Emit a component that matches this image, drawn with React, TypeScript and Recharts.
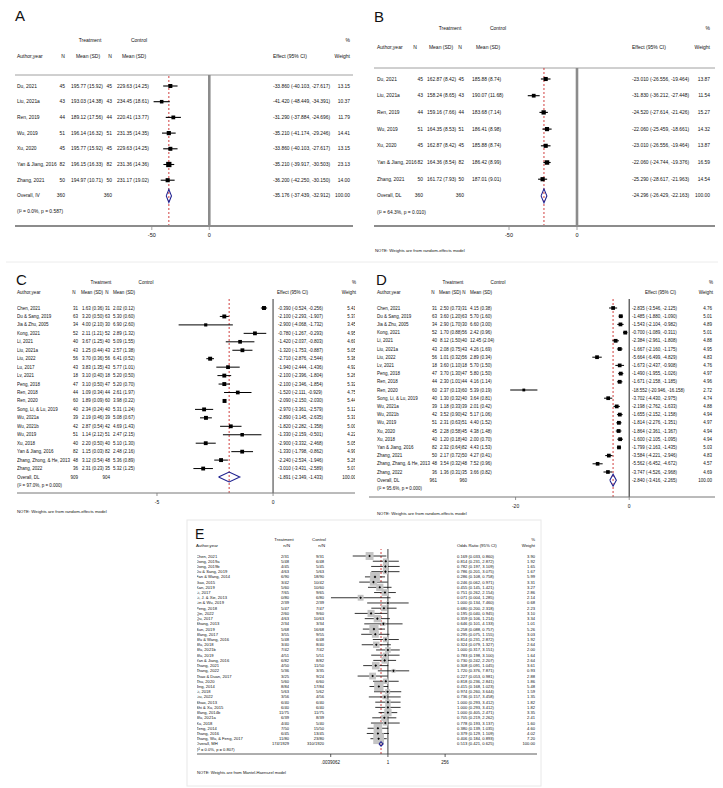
import React from 'react';
import { ScatterChart, Scatter, XAxis, YAxis, ErrorBar, ReferenceLine } from 'recharts';

const FONT = '"Liberation Sans", Arial, Helvetica, sans-serif';

// ---- A: mean differences, fixed effect ----
const aStudies = ['Du, 2021', 'Liu, 2021a', 'Ren, 2019', 'Wu, 2019', 'Xu, 2020', 'Yan & Jiang, 2016', 'Zhang, 2021'];
const aTreatment = [[45, 195.77, 15.92], [43, 193.03, 14.38], [44, 189.12, 17.56], [51, 196.14, 16.32], [45, 195.77, 15.92], [82, 196.15, 16.33], [50, 194.97, 10.71]];
const aControl = [[45, 229.63, 14.25], [43, 234.45, 18.61], [44, 220.41, 13.77], [51, 231.35, 14.35], [45, 229.63, 14.25], [82, 231.36, 14.36], [50, 231.17, 19.02]];
const aEffect = [[-33.86, -40.103, -27.617, 13.15], [-41.42, -48.449, -34.391, 10.37], [-31.29, -37.884, -24.696, 11.79], [-35.21, -41.174, -29.246, 14.41], [-33.86, -40.103, -27.617, 13.15], [-35.21, -39.917, -30.503, 23.13], [-36.2, -42.25, -30.15, 14.0]];
const aOverall = [-35.176, -37.439, -32.912];
const aTotals = ['360', '360'];
const aHet = '(I² = 0.0%, p = 0.587)';

// ---- B ----
const bStudies = ['Du, 2021', 'Liu, 2021a', 'Ren, 2019', 'Wu, 2019', 'Xu, 2020', 'Yan & Jiang, 2016', 'Zhang, 2021'];
const bTreatment = [[45, 162.87, 8.42], [43, 158.24, 8.65], [44, 159.16, 7.66], [51, 164.35, 8.53], [45, 162.87, 8.42], [82, 164.36, 8.54], [50, 161.72, 7.93]];
const bControl = [[45, 185.88, 8.74], [43, 190.07, 11.68], [44, 183.68, 7.14], [51, 186.41, 8.98], [45, 185.88, 8.74], [82, 186.42, 8.99], [50, 187.01, 9.01]];
const bEffect = [[-23.01, -26.556, -19.464, 13.87], [-31.83, -36.212, -27.448, 11.54], [-24.52, -27.614, -21.426, 15.27], [-22.06, -25.459, -18.661, 14.32], [-23.01, -26.556, -19.464, 13.87], [-22.06, -24.744, -19.376, 16.59], [-25.29, -28.617, -21.963, 14.54]];
const bOverall = [-24.296, -26.429, -22.163];
const bTotals = ['360', '360'];
const bHet = '(I² = 64.3%, p = 0.010)';

// ---- C ----
const cStudies = ['Chen, 2021', 'Du & Sang, 2019', 'Jia & Zhu, 2005', 'Kong, 2021', 'Li, 2021', 'Liu, 2021a', 'Liu, 2022', 'Lu, 2017', 'Lv, 2021', 'Peng, 2018', 'Ren, 2018', 'Ren, 2020', 'Song, Li, & Lu, 2019', 'Wu, 2021a', 'Wu, 2021b', 'Wu, 2019', 'Xu, 2018', 'Yan & Jiang, 2016', 'Zhang, Zhong, & He, 2013', 'Zhang, 2022'];
const cTreatment = [[31, 1.63, 0.36], [63, 3.2, 0.5], [34, 4.0, 2.1], [52, 2.11, 1.21], [40, 3.67, 1.25], [43, 1.25, 0.44], [56, 3.7, 0.36], [43, 3.83, 1.35], [18, 3.1, 0.4], [47, 3.1, 0.5], [44, 1.09, 0.34], [60, 1.89, 0.09], [40, 2.34, 0.24], [39, 2.19, 0.46], [42, 2.87, 0.54], [51, 1.14, 2.12], [40, 2.2, 0.5], [82, 1.15, 0.03], [48, 3.12, 0.54], [36, 2.31, 0.23]];
const cControl = [[31, 2.02, 0.12], [63, 5.3, 0.6], [30, 6.9, 2.6], [52, 2.89, 1.32], [40, 5.09, 1.55], [43, 2.57, 1.38], [56, 6.41, 0.52], [43, 5.77, 1.01], [18, 5.2, 0.5], [47, 5.2, 0.7], [44, 2.61, 1.97], [60, 3.98, 0.22], [40, 5.31, 1.24], [39, 5.08, 0.67], [42, 4.69, 1.43], [51, 2.47, 2.15], [40, 5.1, 1.3], [82, 2.48, 2.16], [48, 5.36, 0.89], [35, 5.32, 1.25]];
const cEffect = [[-0.39, -0.524, -0.256, 5.41], [-2.1, -2.293, -1.907, 5.37], [-2.9, -4.068, -1.732, 3.45], [-0.78, -1.267, -0.293, 4.95], [-1.42, -2.037, -0.803, 4.69], [-1.32, -1.753, -0.887, 5.05], [-2.71, -2.876, -2.544, 5.38], [-1.94, -2.444, -1.436, 4.92], [-2.1, -2.396, -1.804, 5.26], [-2.1, -2.346, -1.854, 5.32], [-1.52, -2.111, -0.929, 4.75], [-2.09, -2.15, -2.03, 5.44], [-2.97, -3.361, -2.579, 5.12], [-2.89, -3.145, -2.635, 5.31], [-1.82, -2.282, -1.358, 5.0], [-1.33, -2.159, -0.501, 4.22], [-2.9, -3.332, -2.468, 5.05], [-1.33, -1.798, -0.862, 4.99], [-2.24, -2.534, -1.946, 5.26], [-3.01, -3.431, -2.589, 5.07]];
const cOverall = [-1.891, -2.349, -1.433];
const cTotals = ['909', '904'];
const cHet = '(I² = 97.0%, p = 0.000)';

// ---- D ----
const dStudies = ['Chen, 2021', 'Du & Sang, 2019', 'Jia & Zhu, 2005', 'Kong, 2021', 'Li, 2021', 'Liu, 2021a', 'Liu, 2022', 'Lv, 2021', 'Peng, 2018', 'Ren, 2018', 'Ren, 2020', 'Song, Li, & Lu, 2019', 'Wu, 2021a', 'Wu, 2021b', 'Wu, 2019', 'Xu, 2020', 'Xu, 2018', 'Yan & Jiang, 2016', 'Zhang, 2021', 'Zhang, Zhang, & He, 2013', 'Zhang, 2022'];
const dTreatment = [[31, 2.5, 0.73], [63, 3.6, 1.2], [34, 2.9, 1.7], [52, 1.7, 0.88], [40, 8.12, 1.5], [43, 2.08, 0.75], [56, 1.01, 0.32], [18, 3.6, 1.1], [47, 3.7, 1.3], [44, 2.3, 1.01], [60, 2.37, 0.13], [40, 1.3, 0.32], [39, 1.18, 0.33], [42, 3.52, 0.9], [51, 2.31, 0.63], [45, 2.28, 0.58], [40, 1.2, 0.18], [82, 2.32, 0.64], [50, 2.17, 0.72], [48, 3.54, 0.32], [36, 1.36, 0.31]];
const dControl = [[31, 4.15, 0.38], [63, 5.7, 1.6], [30, 6.6, 3.0], [56, 2.42, 0.96], [40, 12.45, 2.04], [43, 4.26, 1.69], [56, 2.89, 0.34], [18, 5.7, 1.5], [47, 5.8, 1.5], [44, 4.16, 1.14], [60, 5.39, 0.19], [40, 3.64, 0.81], [39, 2.01, 0.42], [42, 5.17, 1.06], [51, 4.4, 1.52], [45, 4.38, 1.48], [40, 2.0, 0.7], [82, 4.43, 1.53], [50, 4.27, 0.41], [48, 7.52, 0.96], [35, 3.66, 0.82]];
const dEffect = [[-2.835, -3.546, -2.125, 4.76], [-1.485, -1.88, -1.09, 5.01], [-1.543, -2.104, -0.982, 4.89], [-0.7, -1.089, -0.311, 5.01], [-2.384, -2.961, -1.808, 4.88], [-1.667, -2.16, -1.175, 4.95], [-5.664, -6.499, -4.829, 4.83], [-1.673, -2.437, -0.908, 4.76], [-1.49, -1.955, -1.026, 4.97], [-1.671, -2.158, -1.185, 4.96], [-18.552, -20.946, -16.158, 2.72], [-3.702, -4.43, -2.975, 4.74], [-2.198, -2.762, -1.633, 4.88], [-1.655, -2.152, -1.158, 4.94], [-1.814, -2.276, -1.351, 4.97], [-1.864, -2.361, -1.367, 4.94], [-1.6, -2.105, -1.095, 4.94], [-1.799, -2.163, -1.435, 5.03], [-3.584, -4.221, -2.946, 4.83], [-5.562, -6.452, -4.672, 4.57], [-3.747, -4.526, -2.968, 4.69]];
const dOverall = [-2.84, -3.416, -2.265];
const dTotals = ['961', '960'];
const dHet = '(I² = 95.6%, p = 0.000)';

// ---- E: odds ratios, Mantel-Haenszel ----
const eStudies = ['Chen, 2021', 'Dong, 2019a', 'Dong, 2019b', 'Du & Sang, 2019', 'Fan & Wang, 2014', 'Gao, 2015', 'Kan, 2019', 'Li, 2017', 'Li, J. & Xie, 2013', 'Lin & Wu, 2019', 'Peng, 2018', 'Qin, 2022', 'Qu, 2017', 'Shang, 2013', 'Sun, 2019', 'Wang, 2017', 'Wu & Wang, 2016', 'Wu, 2018', 'Wu, 2021b', 'Wu, 2019', 'Yan & Jiang, 2016', 'Zhang, 2021', 'Zhang, 2022', 'Zhao & Duan, 2017', 'Zhu, 2020', 'Jing, 2014', 'Li, 2018', 'Liu, 2022', 'Shao, 2013', 'Shi & Xu, 2015', 'Wang, 2014b', 'Wu, 2021a', 'Xu, 2018', 'Zeng, 2014', 'Zhang, 2016', 'Zhang, Wu, & Feng, 2017'];
const eTreatment = [[2, 31], [5, 48], [4, 45], [4, 63], [6, 90], [3, 42], [5, 60], [7, 65], [0, 80], [2, 39], [5, 47], [2, 60], [4, 63], [2, 34], [5, 68], [3, 55], [5, 48], [3, 40], [7, 42], [4, 51], [6, 82], [4, 50], [5, 36], [3, 25], [5, 60], [8, 84], [5, 63], [3, 56], [6, 40], [6, 40], [11, 75], [6, 39], [4, 40], [7, 50], [6, 45], [11, 80]];
const eControl = [[9, 31], [6, 48], [5, 45], [5, 63], [18, 90], [10, 42], [10, 60], [9, 65], [6, 80], [2, 39], [7, 47], [9, 60], [10, 63], [3, 34], [16, 68], [9, 55], [6, 48], [8, 40], [7, 42], [5, 51], [8, 82], [11, 50], [3, 35], [9, 24], [6, 60], [17, 84], [5, 62], [4, 56], [6, 40], [6, 40], [11, 75], [8, 39], [5, 40], [15, 50], [13, 45], [23, 80]];
const eEffect = [[0.169, 0.033, 0.86, 3.9], [0.814, 0.231, 2.872, 1.92], [0.782, 0.197, 3.109, 1.65], [0.786, 0.201, 3.075, 1.67], [0.286, 0.108, 0.758, 5.99], [0.246, 0.062, 0.971, 3.31], [0.455, 0.145, 1.421, 3.27], [0.751, 0.262, 2.154, 2.86], [0.071, 0.004, 1.285, 2.14], [1.0, 0.134, 7.46, 0.68], [0.68, 0.2, 2.318, 2.23], [0.195, 0.04, 0.945, 3.1], [0.359, 0.106, 1.214, 3.34], [0.646, 0.101, 4.133, 1.01], [0.258, 0.088, 0.757, 5.26], [0.295, 0.075, 1.155, 3.03], [0.814, 0.231, 2.872, 1.92], [0.324, 0.079, 1.327, 2.64], [1.0, 0.317, 3.151, 2.0], [0.783, 0.198, 3.1, 1.64], [0.73, 0.242, 2.207, 2.64], [0.308, 0.091, 1.045, 3.61], [1.72, 0.376, 7.871, 0.93], [0.227, 0.053, 0.981, 2.88], [0.818, 0.236, 2.841, 1.86], [0.415, 0.168, 1.023, 5.48], [0.974, 0.26, 3.644, 1.59], [0.736, 0.157, 3.458, 1.35], [1.0, 0.293, 3.412, 1.82], [1.0, 0.293, 3.412, 1.82], [1.0, 0.405, 2.471, 3.35], [0.705, 0.219, 2.262, 2.41], [0.778, 0.193, 3.137, 1.6], [0.38, 0.139, 1.035, 4.6], [0.379, 0.129, 1.109, 4.02], [0.406, 0.184, 0.893, 7.2]];
const eOverall = [0.513, 0.421, 0.625];
const eTotals = ['174/1929', '310/1920'];
const eHet = '(I² = 0.0%, p = 0.807)';

type Row = { est: number; lo: number; hi: number; w: number; cells: string[] };
type PanelData = { studies: Row[]; pooled: Row; het: string };

const meanSd = (r: number[]) => `${r[1].toFixed(2)} (${r[2].toFixed(2)})`;
const ci = (e: number[]) => `${e[0].toFixed(3)} (${e[1].toFixed(3)}, ${e[2].toFixed(3)})`;

function continuous(names: string[], trt: number[][], ctl: number[][], eff: number[][], overall: number[], totals: string[], label: string, het: string): PanelData {
  const studies = names.map((name, i) => ({
    est: eff[i][0], lo: eff[i][1], hi: eff[i][2], w: eff[i][3],
    cells: [name, String(trt[i][0]), meanSd(trt[i]), String(ctl[i][0]), meanSd(ctl[i]), ci(eff[i]), eff[i][3].toFixed(2)],
  }));
  const pooled = { est: overall[0], lo: overall[1], hi: overall[2], w: 100, cells: [label, totals[0], '', totals[1], '', ci(overall), '100.00'] };
  return { studies, pooled, het };
}

function binary(names: string[], trt: number[][], ctl: number[][], eff: number[][], overall: number[], totals: string[], label: string, het: string): PanelData {
  const studies = names.map((name, i) => ({
    est: eff[i][0], lo: eff[i][1], hi: eff[i][2], w: eff[i][3],
    cells: [name, `${trt[i][0]}/${trt[i][1]}`, `${ctl[i][0]}/${ctl[i][1]}`, ci(eff[i]), eff[i][3].toFixed(2)],
  }));
  const pooled = { est: overall[0], lo: overall[1], hi: overall[2], w: 100, cells: [label, totals[0], totals[1], ci(overall), '100.00'] };
  return { studies, pooled, het };
}

type Col = { x: number; a: 'start' | 'middle' | 'end' };
type Head = { t: string; x: number; y: number; a: 'start' | 'middle' | 'end'; fs: number };
type Cfg = {
  box: { x: number; y: number; w: number; h: number };
  plot: { x0: number; x1: number; y0: number; y1: number };
  firstY: number; step: number;
  scale: 'linear' | 'log'; domain: [number, number];
  ticks: number[]; tickLabels: string[];
  cols: Col[]; fs: number; tickFs: number; tickSize: number; tickMargin: number;
  axisColor: string; axisWidth: number;
  nullX: number; nullColor: string; nullWidth: number;
  headerRule: boolean; boxed: boolean; markerK: number; ciWidth: number; diamondH: number;
};

const Forest = ({ cfg, data }: { cfg: Cfg; data: PanelData }) => {
  const { box, plot } = cfg;
  const axisH = 14;
  const yMin = (plot.y0 - cfg.firstY) / cfg.step;
  const yMax = (plot.y1 - cfg.firstY) / cfg.step;
  const margin = { left: plot.x0 - box.x, right: box.x + box.w - plot.x1, top: plot.y0 - box.y, bottom: box.y + box.h - plot.y1 - axisH };
  const n = data.studies.length;
  const p = data.pooled;
  const tx = cfg.scale === 'log' ? 1 : 0;
  const marks = data.studies.map((s, i) => ({ x: s.est, y: i, err: [s.est - s.lo, s.hi - s.est], w: s.w }));
  const textRows = [
    ...data.studies.map((s, i) => ({ x: tx, y: i, cells: s.cells })),
    { x: tx, y: n, cells: p.cells },
    { x: tx, y: n + 1, cells: [data.het] },
  ];
  const dh = cfg.diamondH / cfg.step;
  const diamond = [
    { x: p.lo, y: n }, { x: p.est, y: n - dh }, { x: p.hi, y: n }, { x: p.est, y: n + dh }, { x: p.lo, y: n },
  ];
  const cols = cfg.cols.map((c) => ({ x: c.x - box.x, a: c.a }));

  const Square = (q: any) => {
    const s = cfg.markerK * Math.sqrt(q.payload.w);
    return <rect x={q.cx - s / 2} y={q.cy - s / 2} width={s} height={s} fill="#000" />;
  };
  const GrayBox = (q: any) => {
    const s = cfg.markerK * Math.sqrt(q.payload.w);
    return <rect x={q.cx - s / 2} y={q.cy - s / 2} width={s} height={s} fill="#c4c4c4" />;
  };
  const Dot = (q: any) => (
    <path d={`M${q.cx - 1.3},${q.cy}L${q.cx},${q.cy - 1.3}L${q.cx + 1.3},${q.cy}L${q.cx},${q.cy + 1.3}Z`} fill="#000" />
  );
  const Empty = () => <g />;
  const TextRow = (q: any) => (
    <g>
      {q.payload.cells.map((c: string, i: number) =>
        c === '' ? null : (
          <text key={i} x={cols[i].x} y={q.cy} textAnchor={cols[i].a} dominantBaseline="central" fontSize={cfg.fs} fontFamily={FONT} fill="#111">
            {c}
          </text>
        )
      )}
    </g>
  );

  return (
    <div style={{ position: 'absolute', left: box.x, top: box.y }}>
      <ScatterChart width={box.w} height={box.h} margin={margin}>
        <XAxis
          type="number" dataKey="x" scale={cfg.scale} domain={cfg.domain} allowDataOverflow
          ticks={cfg.ticks} interval={0} height={axisH}
          tickFormatter={(v: number, i: number) => cfg.tickLabels[i] ?? String(v)}
          axisLine={{ stroke: cfg.axisColor, strokeWidth: cfg.axisWidth }}
          tickLine={{ stroke: cfg.axisColor, strokeWidth: 0.8 }}
          tickSize={cfg.tickSize} tickMargin={cfg.tickMargin}
          tick={{ fontSize: cfg.tickFs, fill: '#111', fontFamily: FONT }}
        />
        <YAxis type="number" dataKey="y" domain={[yMin, yMax]} reversed hide allowDataOverflow />
        {cfg.headerRule && <ReferenceLine y={yMin} stroke="#a0a0a0" strokeWidth={1} />}
        <ReferenceLine x={cfg.nullX} stroke={cfg.nullColor} strokeWidth={cfg.nullWidth} />
        <ReferenceLine x={p.est} stroke="#cc2a2a" strokeWidth={0.9} strokeDasharray="2 2" />
        {cfg.boxed && <Scatter data={marks} shape={GrayBox} isAnimationActive={false} />}
        <Scatter data={marks} shape={cfg.boxed ? Dot : Square} isAnimationActive={false}>
          <ErrorBar dataKey="err" direction="x" width={0} stroke="#000" strokeWidth={cfg.ciWidth} />
        </Scatter>
        <Scatter data={diamond} shape={Empty} line={{ stroke: '#1f2190', strokeWidth: 1.1 }} lineType="joint" isAnimationActive={false} />
        <Scatter data={textRows} shape={TextRow} isAnimationActive={false} />
      </ScatterChart>
    </div>
  );
};

const contCols = (xs: number[]): Col[] => [
  { x: xs[0], a: 'start' }, { x: xs[1], a: 'end' }, { x: xs[2], a: 'start' }, { x: xs[3], a: 'end' },
  { x: xs[4], a: 'start' }, { x: xs[5], a: 'start' }, { x: xs[6], a: 'end' },
];

// xs: treatment, control, author, n1, n2, effect, mean1, mean2, right edge
const contHeads = (letter: string, lx: number, ly: number, y1: number, y2: number, xs: number[], fs: number): Head[] => [
  { t: letter, x: lx, y: ly, a: 'start', fs: 15 },
  { t: 'Treatment', x: xs[0], y: y1, a: 'middle', fs },
  { t: 'Control', x: xs[1], y: y1, a: 'middle', fs },
  { t: '%', x: xs[8], y: y1, a: 'end', fs },
  { t: 'Author,year', x: xs[2], y: y2, a: 'start', fs },
  { t: 'N', x: xs[3], y: y2, a: 'middle', fs },
  { t: 'Mean (SD)', x: xs[6], y: y2, a: 'middle', fs },
  { t: 'N', x: xs[4], y: y2, a: 'middle', fs },
  { t: 'Mean (SD)', x: xs[7], y: y2, a: 'middle', fs },
  { t: 'Effect (95% CI)', x: xs[5], y: y2, a: 'start', fs },
  { t: 'Weight', x: xs[8], y: y2, a: 'end', fs },
];

const NOTE_RE = 'NOTE: Weights are from random-effects model';

const panels: { id: string; cfg: Cfg; data: PanelData; heads: Head[] }[] = [
  {
    id: 'A',
    data: continuous(aStudies, aTreatment, aControl, aEffect, aOverall, aTotals, 'Overall, IV', aHet),
    cfg: {
      box: { x: 10, y: 5, w: 350, h: 240 }, plot: { x0: 15, x1: 353, y0: 75, y1: 226 },
      firstY: 86, step: 15.7, scale: 'linear', domain: [-169, 125], ticks: [-50, 0], tickLabels: ['-50', '0'],
      cols: contCols([17, 65, 71, 112, 117, 273, 350]), fs: 4.9, tickFs: 5.5, tickSize: 4, tickMargin: 3,
      axisColor: '#8c8c8c', axisWidth: 1.8, nullX: 0, nullColor: '#8c8c8c', nullWidth: 2.6,
      headerRule: true, boxed: false, markerK: 1.1, ciWidth: 1.1, diamondH: 6.5,
    },
    heads: contHeads('A', 15, 15.5, 40, 56, [90, 139, 17, 63, 110, 273, 88, 134, 350], 5),
  },
  {
    id: 'B',
    data: continuous(bStudies, bTreatment, bControl, bEffect, bOverall, bTotals, 'Overall, DL', bHet),
    cfg: {
      box: { x: 362, y: 5, w: 355, h: 255 }, plot: { x0: 374, x1: 715, y0: 68, y1: 226 },
      firstY: 79, step: 16.7, scale: 'linear', domain: [-149.3, 101.5], ticks: [-50, 0], tickLabels: ['-50', '0'],
      cols: contCols([377, 423, 427, 464, 472, 632, 710]), fs: 4.9, tickFs: 5.5, tickSize: 4, tickMargin: 3,
      axisColor: '#8c8c8c', axisWidth: 1.8, nullX: 0, nullColor: '#8c8c8c', nullWidth: 2.6,
      headerRule: true, boxed: false, markerK: 1.1, ciWidth: 1.1, diamondH: 7,
    },
    heads: [
      ...contHeads('B', 374, 16, 28, 47, [450, 498, 377, 415, 460, 632, 441, 488, 710], 5),
      { t: NOTE_RE, x: 375, y: 250, a: 'start', fs: 4.3 },
    ],
  },
  {
    id: 'C',
    data: continuous(cStudies, cTreatment, cControl, cEffect, cOverall, cTotals, 'Overall, DL', cHet),
    cfg: {
      box: { x: 10, y: 262, w: 350, h: 252 }, plot: { x0: 17, x1: 355, y0: 299, y1: 493 },
      firstY: 308, step: 8.45, scale: 'linear', domain: [-11.03, 3.53], ticks: [-5, 0], tickLabels: ['-5', '0'],
      cols: contCols([17, 78, 82, 110, 113, 278, 356]), fs: 4.5, tickFs: 5, tickSize: 3, tickMargin: 4,
      axisColor: '#777', axisWidth: 1, nullX: 0, nullColor: '#555', nullWidth: 1.2,
      headerRule: false, boxed: false, markerK: 1.7, ciWidth: 1, diamondH: 5,
    },
    heads: [
      ...contHeads('C', 16, 279, 282, 292, [101, 146, 17, 74, 107, 277, 92, 124, 356], 4.6),
      { t: NOTE_RE, x: 17, y: 511, a: 'start', fs: 4.3 },
    ],
  },
  {
    id: 'D',
    data: continuous(dStudies, dTreatment, dControl, dEffect, dOverall, dTotals, 'Overall, DL', dHet),
    cfg: {
      box: { x: 362, y: 262, w: 355, h: 252 }, plot: { x0: 369, x1: 715, y0: 299, y1: 497 },
      firstY: 308, step: 8.2, scale: 'linear', domain: [-45.8, 15.1], ticks: [-20, 0], tickLabels: ['-20', '0'],
      cols: contCols([377, 437, 440, 467, 470, 632, 712]), fs: 4.5, tickFs: 5, tickSize: 3, tickMargin: 4,
      axisColor: '#777', axisWidth: 1, nullX: 0, nullColor: '#444', nullWidth: 1.2,
      headerRule: false, boxed: false, markerK: 1.7, ciWidth: 1, diamondH: 6,
    },
    heads: [
      ...contHeads('D', 376, 279, 282, 292, [453, 498, 377, 433, 464, 645, 450, 481, 713], 4.6),
      { t: NOTE_RE, x: 377, y: 513, a: 'start', fs: 4.3 },
    ],
  },
  {
    id: 'E',
    data: binary(eStudies, eTreatment, eControl, eEffect, eOverall, eTotals, 'Overall, MH', eHet),
    cfg: {
      box: { x: 186, y: 519, w: 356, h: 262 }, plot: { x0: 197, x1: 537, y0: 549, y1: 754 },
      firstY: 556, step: 5.22, scale: 'log', domain: [Math.pow(2, -26.7), Math.pow(2, 20.85)],
      ticks: [1 / 256, 1, 256], tickLabels: ['.0039062', '1', '256'],
      cols: [{ x: 196, a: 'start' }, { x: 289, a: 'end' }, { x: 324, a: 'end' }, { x: 457, a: 'start' }, { x: 535, a: 'end' }],
      fs: 4.1, tickFs: 4.5, tickSize: 3, tickMargin: 4,
      axisColor: '#333', axisWidth: 0.8, nullX: 1, nullColor: '#111', nullWidth: 0.8,
      headerRule: false, boxed: true, markerK: 4, ciWidth: 0.8, diamondH: 2.2,
    },
    heads: [
      { t: 'E', x: 195, y: 534, a: 'start', fs: 14 },
      { t: 'Treatment', x: 284, y: 539, a: 'middle', fs: 4.3 },
      { t: 'Control', x: 319, y: 539, a: 'middle', fs: 4.3 },
      { t: '%', x: 535, y: 539, a: 'end', fs: 4.3 },
      { t: 'Author,year', x: 196, y: 545.5, a: 'start', fs: 4.3 },
      { t: 'n/N', x: 290, y: 545.5, a: 'end', fs: 4.3 },
      { t: 'n/N', x: 325, y: 545.5, a: 'end', fs: 4.3 },
      { t: 'Odds Ratio (95% CI)', x: 457, y: 545.5, a: 'start', fs: 4.3 },
      { t: 'Weight', x: 535, y: 545.5, a: 'end', fs: 4.3 },
      { t: 'NOTE: Weights are from Mantel-Haenszel model', x: 197, y: 772, a: 'start', fs: 4.1 },
    ],
  },
];

export default function App() {
  return (
    <div style={{ position: 'absolute', left: 0, top: 0, width: 723, height: 788, background: '#fff' }}>
      {panels.map((p) => (
        <Forest key={p.id} cfg={p.cfg} data={p.data} />
      ))}
      <svg width={723} height={788} style={{ position: 'absolute', left: 0, top: 0, pointerEvents: 'none' }}>
        {/* faint frames of the pasted sub-figures */}
        <line x1={6} x2={718} y1={262} y2={262} stroke="#ececec" />
        <rect x={187} y={520} width={354} height={266} fill="none" stroke="#e8e8e8" />
        {panels.flatMap((p) =>
          p.heads.map((h, i) => (
            <text key={p.id + i} x={h.x} y={h.y} textAnchor={h.a} dominantBaseline="central" fontSize={h.fs} fontFamily={FONT} fill="#111">
              {h.t}
            </text>
          ))
        )}
      </svg>
    </div>
  );
}
